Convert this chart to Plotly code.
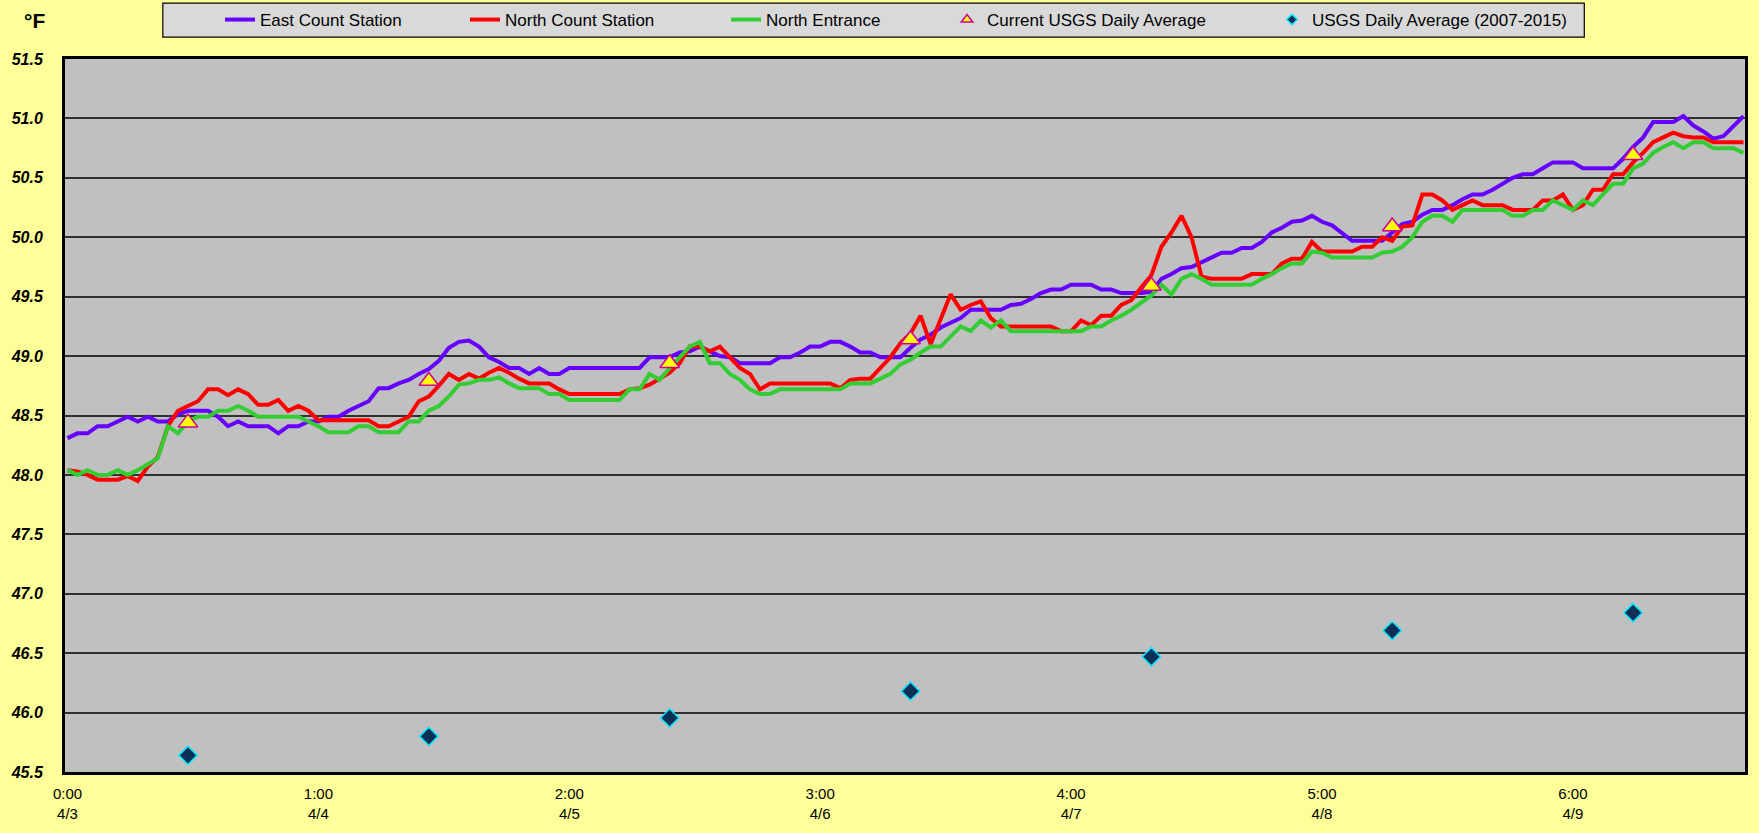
import plotly.graph_objects as go

# ---- data (hourly readings, hour 0 = 4/3 0:00) ----
east = [
    48.31, 48.35, 48.35, 48.41, 48.41, 48.45, 48.49, 48.45, 48.49, 48.45,
    48.45, 48.51, 48.54, 48.54, 48.54, 48.49, 48.41, 48.45, 48.41, 48.41,
    48.41, 48.35, 48.41, 48.41, 48.45, 48.45, 48.49, 48.49, 48.54, 48.58,
    48.62, 48.73, 48.73, 48.77, 48.80, 48.85, 48.89, 48.96, 49.07, 49.12,
    49.13, 49.08, 48.99, 48.95, 48.90, 48.90, 48.85, 48.90, 48.85, 48.85,
    48.90, 48.90, 48.90, 48.90, 48.90, 48.90, 48.90, 48.90, 48.99, 48.99,
    48.99, 49.03, 49.04, 49.08, 49.04, 49.00, 48.99, 48.94, 48.94, 48.94,
    48.94, 48.99, 48.99, 49.03, 49.08, 49.08, 49.12, 49.12, 49.08, 49.03,
    49.03, 48.99, 48.99, 48.99, 49.07, 49.14, 49.18, 49.24, 49.28, 49.32,
    49.39, 49.39, 49.39, 49.39, 49.43, 49.44, 49.48, 49.53, 49.56, 49.56,
    49.60, 49.60, 49.60, 49.56, 49.56, 49.53, 49.53, 49.53, 49.54, 49.65,
    49.69, 49.74, 49.75, 49.79, 49.83, 49.87, 49.87, 49.91, 49.91, 49.96,
    50.04, 50.08, 50.13, 50.14, 50.18, 50.13, 50.10, 50.04, 49.97, 49.97,
    49.97, 49.97, 50.04, 50.11, 50.13, 50.19, 50.23, 50.23, 50.27, 50.32,
    50.36, 50.36, 50.40, 50.45, 50.50, 50.53, 50.53, 50.58, 50.63, 50.63,
    50.63, 50.58, 50.58, 50.58, 50.58, 50.66, 50.76, 50.84, 50.97, 50.97,
    50.97, 51.02, 50.94, 50.89, 50.83, 50.85, 50.94, 51.02]

north_count = [
    48.04, 48.03, 48.00, 47.96, 47.96, 47.96, 47.99, 47.95, 48.07, 48.15,
    48.41, 48.54, 48.58, 48.62, 48.72, 48.72, 48.67, 48.72, 48.68, 48.59,
    48.59, 48.63, 48.54, 48.58, 48.54, 48.46, 48.46, 48.46, 48.46, 48.46,
    48.46, 48.41, 48.41, 48.45, 48.49, 48.62, 48.66, 48.75, 48.85, 48.80,
    48.85, 48.81, 48.86, 48.90, 48.86, 48.81, 48.77, 48.77, 48.77, 48.72,
    48.68, 48.68, 48.68, 48.68, 48.68, 48.68, 48.72, 48.73, 48.76, 48.81,
    48.86, 48.94, 49.08, 49.08, 49.04, 49.08, 48.99, 48.90, 48.85, 48.72,
    48.77, 48.77, 48.77, 48.77, 48.77, 48.77, 48.77, 48.73, 48.80, 48.81,
    48.81, 48.90, 48.99, 49.11, 49.19, 49.34, 49.10, 49.31, 49.52, 49.39,
    49.43, 49.46, 49.32, 49.25, 49.25, 49.25, 49.25, 49.25, 49.25, 49.21,
    49.21, 49.30, 49.26, 49.34, 49.34, 49.43, 49.47, 49.58, 49.68, 49.92,
    50.04, 50.18, 50.00, 49.67, 49.65, 49.65, 49.65, 49.65, 49.69, 49.69,
    49.69, 49.78, 49.82, 49.82, 49.96, 49.88, 49.88, 49.88, 49.88, 49.92,
    49.92, 50.00, 49.97, 50.09, 50.10, 50.36, 50.36, 50.31, 50.23, 50.27,
    50.31, 50.27, 50.27, 50.27, 50.23, 50.23, 50.23, 50.31, 50.31, 50.36,
    50.23, 50.27, 50.40, 50.40, 50.53, 50.53, 50.63, 50.71, 50.80, 50.84,
    50.88, 50.85, 50.84, 50.84, 50.80, 50.80, 50.80, 50.80]

north_entrance = [
    48.04, 48.00, 48.04, 48.00, 48.00, 48.04, 48.00, 48.04, 48.09, 48.14,
    48.41, 48.35, 48.45, 48.49, 48.49, 48.54, 48.54, 48.58, 48.54, 48.49,
    48.49, 48.49, 48.49, 48.49, 48.45, 48.41, 48.36, 48.36, 48.36, 48.41,
    48.41, 48.36, 48.36, 48.36, 48.45, 48.45, 48.54, 48.58, 48.66, 48.76,
    48.77, 48.80, 48.80, 48.82, 48.77, 48.73, 48.73, 48.73, 48.68, 48.68,
    48.63, 48.63, 48.63, 48.63, 48.63, 48.63, 48.72, 48.72, 48.85, 48.80,
    48.90, 48.99, 49.08, 49.12, 48.94, 48.94, 48.85, 48.80, 48.72, 48.68,
    48.68, 48.72, 48.72, 48.72, 48.72, 48.72, 48.72, 48.72, 48.77, 48.77,
    48.77, 48.81, 48.85, 48.93, 48.97, 49.03, 49.08, 49.08, 49.17, 49.25,
    49.21, 49.30, 49.24, 49.30, 49.21, 49.21, 49.21, 49.21, 49.21, 49.21,
    49.21, 49.21, 49.25, 49.25, 49.30, 49.34, 49.39, 49.45, 49.51, 49.60,
    49.52, 49.65, 49.69, 49.65, 49.60, 49.60, 49.60, 49.60, 49.60, 49.65,
    49.69, 49.74, 49.78, 49.78, 49.88, 49.87, 49.83, 49.83, 49.83, 49.83,
    49.83, 49.87, 49.88, 49.92, 50.00, 50.13, 50.18, 50.18, 50.13, 50.23,
    50.23, 50.23, 50.23, 50.23, 50.18, 50.18, 50.23, 50.23, 50.31, 50.27,
    50.23, 50.31, 50.27, 50.36, 50.45, 50.45, 50.58, 50.62, 50.71, 50.76,
    50.80, 50.75, 50.80, 50.80, 50.75, 50.75, 50.75, 50.71]

# daily values plotted at noon (hours since 4/3 0:00)
daily_hours = [12, 36, 60, 84, 108, 132, 156]
usgs_current = [48.44, 48.79, 48.94, 49.14, 49.59, 50.09, 50.69]
usgs_2007_2015 = [45.64, 45.80, 45.955, 46.18, 46.47, 46.69, 46.84]

tick_hours = [0, 25, 50, 75, 100, 125, 150]
tick_labels = ["0:00<br>4/3", "1:00<br>4/4", "2:00<br>4/5", "3:00<br>4/6",
               "4:00<br>4/7", "5:00<br>4/8", "6:00<br>4/9"]
y_ticks = [45.5, 46.0, 46.5, 47.0, 47.5, 48.0, 48.5, 49.0, 49.5, 50.0, 50.5, 51.0, 51.5]

hours = list(range(len(east)))

FONT = "Liberation Sans, Arial, sans-serif"
EAST_C, NORTH_C, ENTR_C = "#6600FF", "#FF0000", "#33CC33"
TRI = dict(symbol="triangle-up", color="#FFFF00", line=dict(color="#CC0099", width=1.5))
DIA = dict(symbol="diamond", color="#0B2F55", line=dict(color="#00E5FF", width=1.5))

fig = go.Figure()
# data traces (no legend entries)
fig.add_trace(go.Scatter(x=hours, y=east, mode="lines", showlegend=False,
                         line=dict(color=EAST_C, width=4)))
fig.add_trace(go.Scatter(x=hours, y=north_count, mode="lines", showlegend=False,
                         line=dict(color=NORTH_C, width=4)))
fig.add_trace(go.Scatter(x=hours, y=north_entrance, mode="lines", showlegend=False,
                         line=dict(color=ENTR_C, width=4)))
fig.add_trace(go.Scatter(x=daily_hours, y=usgs_current, mode="markers", showlegend=False,
                         marker=dict(size=17, **TRI)))
fig.add_trace(go.Scatter(x=daily_hours, y=usgs_2007_2015, mode="markers", showlegend=False,
                         marker=dict(size=14, **DIA)))

# legend entries
fig.add_trace(go.Scatter(x=[None], y=[None], mode="lines", name="East Count Station",
                         line=dict(color=EAST_C, width=4), legend="legend"))
fig.add_trace(go.Scatter(x=[None], y=[None], mode="lines", name="North Count Station",
                         line=dict(color=NORTH_C, width=4), legend="legend2"))
fig.add_trace(go.Scatter(x=[None], y=[None], mode="lines", name="North Entrance",
                         line=dict(color=ENTR_C, width=4), legend="legend3"))
fig.add_trace(go.Scatter(x=[None], y=[None], mode="markers", name="Current USGS Daily Average",
                         marker=dict(size=10, **TRI), legend="legend4"))
fig.add_trace(go.Scatter(x=[None], y=[None], mode="markers", name="USGS Daily Average (2007-2015)",
                         marker=dict(size=8, **DIA), legend="legend5"))

W, H = 1759, 833
L, R, T, B = 65, 11, 59, 59

def leg(px):
    return dict(x=px / W, y=1 - 20 / H, xref="container", yref="container",
                xanchor="left", yanchor="middle", bgcolor="rgba(0,0,0,0)",
                borderwidth=0, font=dict(family=FONT, size=17, color="#000000"),
                orientation="h")

fig.update_layout(
    width=W, height=H,
    margin=dict(l=L, r=R, t=T, b=B),
    paper_bgcolor="#FFFF99",
    plot_bgcolor="#C0C0C0",
    showlegend=True,
    legend=leg(220), legend2=leg(465), legend3=leg(726),
    legend4=leg(947), legend5=leg(1272),
    shapes=[dict(type="rect", xref="paper", yref="paper",
                 x0=(163 - L) / (W - L - R), x1=(1587 - L) / (W - L - R),
                 y0=(H - B - 37) / (H - T - B), y1=(H - B - 3) / (H - T - B),
                 fillcolor="#D9D9D9", line=dict(color="#000000", width=1.2),
                 layer="below")],
    annotations=[dict(text="<b>°F</b>", xref="paper", yref="paper",
                      x=(34 - L) / (W - L - R), y=(H - B - 20) / (H - T - B),
                      xanchor="center", yanchor="middle", showarrow=False,
                      font=dict(family=FONT, size=21, color="#000000"))],
)

fig.update_xaxes(
    range=[-0.25, 167.15], tickvals=tick_hours, ticktext=tick_labels,
    showgrid=False, zeroline=False, ticks="",
    showline=True, mirror=True, linecolor="#000000", linewidth=3,
    tickfont=dict(family=FONT, size=15, color="#000000"),
    ticklabelstandoff=6,
)
fig.update_yaxes(
    range=[45.5, 51.5], tickvals=y_ticks, tickformat=".1f",
    showgrid=True, gridcolor="#303030", gridwidth=1.5, zeroline=False, ticks="",
    showline=True, mirror=True, linecolor="#000000", linewidth=3,
    tickfont=dict(family=FONT, size=16, color="#000000", weight="bold", style="italic"),
    ticklabelstandoff=16,
)

fig.write_html(
    "out.html",
    config={"displayModeBar": False},
    post_script="document.body.style.margin='0';document.body.style.background='#FFFF99';",
)
